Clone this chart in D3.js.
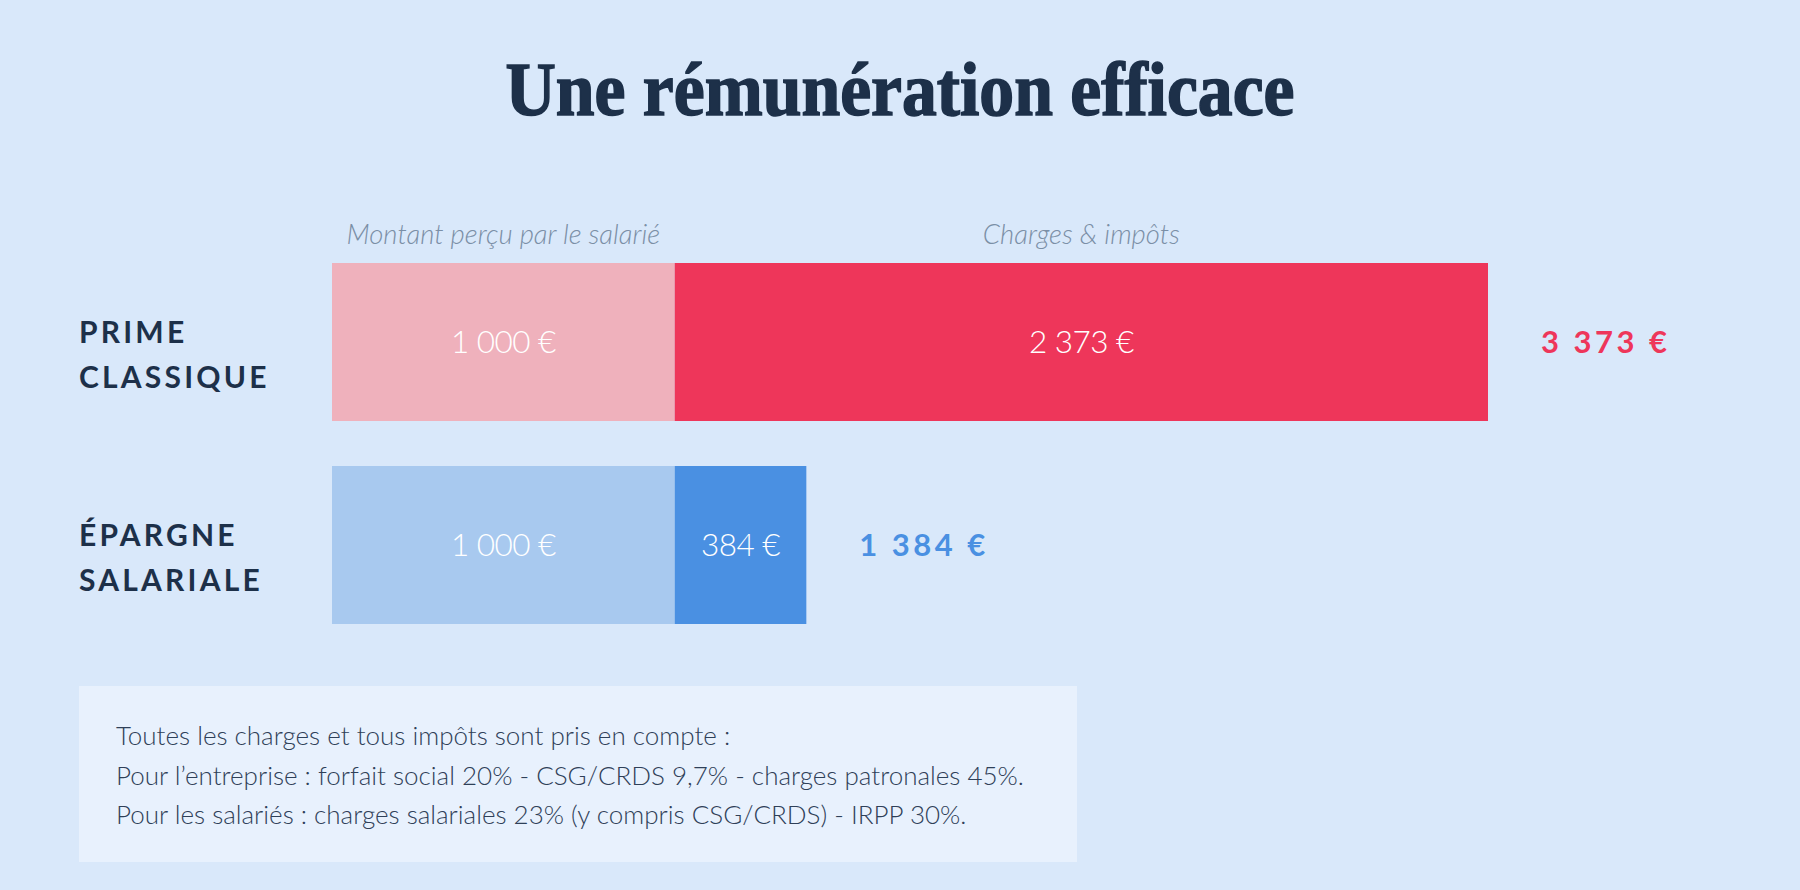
<!DOCTYPE html>
<html><head><meta charset="utf-8">
<script src="https://cdn.jsdelivr.net/npm/d3@7"></script>
<style>
html,body{margin:0;padding:0;background:#d9e8fa;}
svg{display:block;}
</style></head>
<body>
<script>
const title = "Une rémunération efficace";
const categories = ["PRIME CLASSIQUE", "ÉPARGNE SALARIALE"];
const categoryLines = [["PRIME", "CLASSIQUE"], ["ÉPARGNE", "SALARIALE"]];
const netValues = [1000, 1000];
const chargeValues = [2373, 384];
const segmentHeaders = ["Montant perçu par le salarié", "Charges & impôts"];
const lightColors = ["#efb1bc", "#a8c9ef"];
const darkColors = ["#ee365a", "#4a90e2"];
const noteLines = [
  "Toutes les charges et tous impôts sont pris en compte :",
  "Pour l’entreprise : forfait social 20% - CSG/CRDS 9,7% - charges patronales 45%.",
  "Pour les salariés : charges salariales 23% (y compris CSG/CRDS) - IRPP 30%."
];

const W = 1800, H = 890;
const svg = d3.select("body").append("svg").attr("width", W).attr("height", H);
svg.append("rect").attr("width", W).attr("height", H).attr("fill", "#d9e8fa");

const fr = d3.formatLocale({decimal: ",", thousands: "\u00a0", grouping: [3], currency: ["", "\u00a0€"]});
const fmt = fr.format("$,d");

const totals = netValues.map((v, i) => v + chargeValues[i]);
const x = d3.scaleLinear().domain([0, d3.max(totals)]).range([332, 1488]);
const y = d3.scaleBand().domain(categories).range([263, 624]).paddingInner(45 / 203).paddingOuter(0);

// Title
svg.append("text").text(title)
  .attr("x", 900).attr("y", 115).attr("text-anchor", "middle")
  .attr("font-family", "Liberation Serif").attr("font-weight", 700)
  .attr("font-size", 76).attr("fill", "#1d3049")
  .attr("stroke", "#1d3049").attr("stroke-width", 1.6)
  .attr("textLength", 789).attr("lengthAdjust", "spacingAndGlyphs");

// headers above first bar
const r0 = [[0, netValues[0]], [netValues[0], totals[0]]];
svg.selectAll("text.hdr").data(segmentHeaders).join("text").attr("class", "hdr")
  .attr("x", (d, i) => (x(r0[i][0]) + x(r0[i][1])) / 2)
  .attr("y", 244).attr("text-anchor", "middle")
  .attr("font-family", "Lato").attr("font-style", "italic").attr("font-weight", 300)
  .attr("font-size", 27.5).attr("fill", "#7b8fa6").text(d => d);

const rows = svg.selectAll("g.row").data(categories).join("g").attr("class", "row");

rows.append("rect")
  .attr("x", x(0)).attr("y", d => y(d))
  .attr("width", (d, i) => x(netValues[i]) - x(0)).attr("height", y.bandwidth())
  .attr("fill", (d, i) => lightColors[i]);
rows.append("rect")
  .attr("x", (d, i) => x(netValues[i])).attr("y", d => y(d))
  .attr("width", (d, i) => x(totals[i]) - x(netValues[i])).attr("height", y.bandwidth())
  .attr("fill", (d, i) => darkColors[i]);

rows.append("text")
  .attr("x", (d, i) => (x(0) + x(netValues[i])) / 2)
  .attr("y", d => y(d) + y.bandwidth() / 2).attr("dy", "0.35em")
  .attr("text-anchor", "middle").attr("font-family", "Lato").attr("font-weight", 300)
  .attr("font-size", 31.5).attr("fill", "#ffffff").attr("letter-spacing", -0.5)
  .text((d, i) => fmt(netValues[i]));
rows.append("text")
  .attr("x", (d, i) => (x(netValues[i]) + x(totals[i])) / 2)
  .attr("y", d => y(d) + y.bandwidth() / 2).attr("dy", "0.35em")
  .attr("text-anchor", "middle").attr("font-family", "Lato").attr("font-weight", 300)
  .attr("font-size", 31.5).attr("fill", "#ffffff").attr("letter-spacing", -0.5)
  .text((d, i) => fmt(chargeValues[i]));

rows.append("text")
  .attr("x", (d, i) => x(totals[i]) + 53)
  .attr("y", d => y(d) + y.bandwidth() / 2).attr("dy", "0.35em")
  .attr("font-family", "Lato").attr("font-weight", 700)
  .attr("font-size", 31).attr("letter-spacing", 3.5)
  .attr("fill", (d, i) => darkColors[i])
  .text((d, i) => fmt(totals[i]));

rows.each(function(d, i) {
  const t = d3.select(this).append("text")
    .attr("font-family", "Lato").attr("font-weight", 700)
    .attr("font-size", 30).attr("letter-spacing", 3.2).attr("fill", "#1d3049");
  categoryLines[i].forEach((ln, j) => {
    t.append("tspan").attr("x", 79)
      .attr("y", y(d) + y.bandwidth() / 2 + 1 + j * 45)
      .text(ln);
  });
});

// note box
svg.append("rect").attr("x", 79).attr("y", 686).attr("width", 998).attr("height", 176)
  .attr("fill", "#e8f1fd");
svg.selectAll("text.note").data(noteLines).join("text").attr("class", "note")
  .attr("x", 116).attr("y", (d, i) => 745 + i * 39.5)
  .attr("font-family", "Lato").attr("font-weight", 300)
  .attr("font-size", 26).attr("fill", "#2f4058").text(d => d);
</script>
</body></html>
